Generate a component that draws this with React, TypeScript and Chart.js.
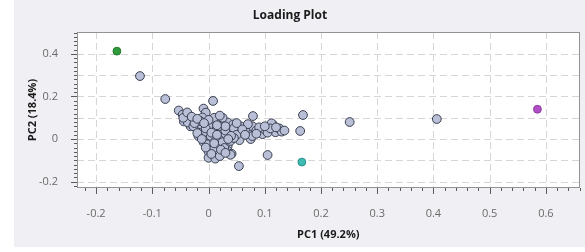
import React, { useEffect, useRef } from "react";
import { Chart, registerables } from "chart.js";

Chart.register(...registerables);

// Loadings (gray points)
const PC1 = [
  -0.122, -0.077, -0.053, -0.046, -0.036, -0.044, -0.027, -0.009, -0.005, -0.011,
  0.007, 0.016, 0.034, 0.044, 0.057, 0.075, 0.093, 0.114, 0.125, 0.119,
  0.069, 0.075, 0.057, 0.039, 0.027, 0.018, 0.004, -0.009, -0.02, -0.032,
  -0.018, -0.009, 0.004, 0.016, 0.034, 0.039, 0.0, 0.016, 0.0, 0.034,
  0.012, 0.021, 0.009, 0.0, -0.014, -0.037, -0.027, 0.008, 0.079, 0.112,
  0.126, 0.096, 0.078, 0.078, 0.06, 0.041, 0.055, 0.105, 0.054, 0.168,
  0.163, 0.251, 0.406, 0.01, 0.02, 0.03, 0.045, 0.05, 0.065, 0.085,
  0.1, 0.105, 0.13, -0.005, 0.005, -0.015, -0.025, 0.0, 0.012, 0.025,
  0.028, 0.008, -0.003, 0.02, 0.005, 0.045, 0.09, -0.045, -0.038, 0.025,
  0.04, 0.07, 0.039, 0.135, 0.02, -0.02, 0.06, 0.11, 0.03, -0.012,
  -0.03, -0.02, 0.015, 0.05, 0.065, 0.085, 0.01, 0.022, 0.03, -0.005,
  0.015, 0.035, -0.008, 0.1, 0.12,
];
const PC2 = [
  0.296, 0.188, 0.134, 0.115, 0.111, 0.083, 0.092, 0.143, 0.124, 0.101,
  0.083, 0.078, 0.078, 0.069, 0.06, 0.06, 0.032, 0.069, 0.046, 0.032,
  0.032, 0.0, 0.014, 0.032, 0.014, 0.0, 0.014, 0.032, 0.046, 0.06,
  0.014, -0.014, -0.032, -0.023, -0.032, -0.009, -0.06, -0.069, -0.088, -0.055,
  -0.092, 0.046, 0.046, 0.06, 0.069, 0.078, 0.06, 0.179, 0.108, 0.074,
  0.05, 0.023, 0.014, 0.06, 0.028, -0.069, -0.005, -0.075, -0.127, 0.113,
  0.038, 0.08, 0.094, 0.1, 0.06, 0.04, 0.05, 0.02, 0.045, 0.04,
  0.045, 0.03, 0.035, 0.05, 0.03, 0.085, 0.075, 0.09, -0.01, -0.015,
  -0.042, -0.045, -0.025, -0.08, -0.07, 0.005, 0.055, 0.1, 0.125, 0.1,
  0.015, 0.07, -0.074, 0.04, 0.11, 0.028, 0.045, 0.05, 0.06, 0.0,
  0.105, 0.095, 0.065, 0.075, 0.02, 0.025, -0.02, -0.05, -0.065, -0.04,
  0.02, 0.0, 0.075, 0.06, 0.055,
];

// Highlighted loadings
const HIGHLIGHT_PC1 = [-0.163, 0.166, 0.585];
const HIGHLIGHT_PC2 = [0.413, -0.108, 0.14];
const HIGHLIGHT_FILL = ["#2f9b3b", "#3dbcb4", "#b24fc6"];
const HIGHLIGHT_EDGE = ["#1f7a2b", "#2a918a", "#8d3aa0"];

const X_TICKS = [-0.2, -0.1, 0, 0.1, 0.2, 0.3, 0.4, 0.5, 0.6];
const Y_TICKS = [-0.2, 0, 0.2, 0.4];
const Y_GRID = [-0.2, -0.1, 0, 0.1, 0.2, 0.3, 0.4];
const X_RANGE = [-0.234, 0.66];
const Y_RANGE = [-0.23, 0.503];
const MINOR_STEP = 0.02;

const FONT = "'Open Sans', 'Noto Sans', sans-serif";

const framePlugin = {
  id: "frame",
  beforeDraw(chart: any) {
    const { ctx, width, height, chartArea } = chart;
    ctx.save();
    ctx.fillStyle = "#ffffff";
    ctx.fillRect(0, 0, width, height);
    ctx.fillStyle = "#f0eff3";
    ctx.fillRect(14, 0, width - 14, height - 5);
    ctx.fillStyle = "#ffffff";
    ctx.fillRect(chartArea.left, chartArea.top, chartArea.right - chartArea.left, chartArea.bottom - chartArea.top);
    ctx.restore();
  },
  beforeDatasetsDraw(chart: any) {
    const { ctx, chartArea, scales } = chart;
    const { left, right, top, bottom } = chartArea;
    const xs = scales.x;
    const ys = scales.y;
    ctx.save();
    // grid
    ctx.strokeStyle = "#d6d6d6";
    ctx.lineWidth = 1;
    ctx.setLineDash([7, 4]);
    X_TICKS.forEach((v) => {
      const px = Math.round(xs.getPixelForValue(v)) + 0.5;
      ctx.beginPath();
      ctx.moveTo(px, top);
      ctx.lineTo(px, bottom);
      ctx.stroke();
    });
    Y_GRID.forEach((v) => {
      const py = Math.round(ys.getPixelForValue(v)) + 0.5;
      ctx.beginPath();
      ctx.moveTo(left, py);
      ctx.lineTo(right, py);
      ctx.stroke();
    });
    ctx.setLineDash([]);
    // ticks
    ctx.strokeStyle = "#5a5a5a";
    const xMin = Math.ceil(X_RANGE[0] / MINOR_STEP);
    const xMax = Math.floor(X_RANGE[1] / MINOR_STEP);
    for (let i = xMin; i <= xMax; i++) {
      const v = i * MINOR_STEP;
      const major = X_TICKS.some((t) => Math.abs(t - v) < 1e-6);
      const px = Math.round(xs.getPixelForValue(v)) + 0.5;
      ctx.beginPath();
      ctx.moveTo(px, bottom);
      ctx.lineTo(px, bottom + (major ? 6 : 3));
      ctx.stroke();
    }
    const yMin = Math.ceil(Y_RANGE[0] / MINOR_STEP);
    const yMax = Math.floor(Y_RANGE[1] / MINOR_STEP);
    for (let i = yMin; i <= yMax; i++) {
      const v = i * MINOR_STEP;
      const major = Y_TICKS.some((t) => Math.abs(t - v) < 1e-6);
      const py = Math.round(ys.getPixelForValue(v)) + 0.5;
      ctx.beginPath();
      ctx.moveTo(left, py);
      ctx.lineTo(left - (major ? 6 : 3), py);
      ctx.stroke();
    }
    // frame
    ctx.strokeStyle = "#939393";
    ctx.strokeRect(Math.round(left) + 0.5, Math.round(top) + 0.5, Math.round(right - left) - 1, Math.round(bottom - top) - 1);
    ctx.restore();
  },
};

export default function App() {
  const ref = useRef<HTMLCanvasElement | null>(null);
  useEffect(() => {
    document.body.style.margin = "0";
    const canvas = ref.current;
    if (!canvas) return;
    const chart = new Chart(canvas, {
      type: "scatter",
      data: {
        datasets: [
          {
            label: "Loadings",
            data: PC1.map((x, i) => ({ x, y: PC2[i] })),
            backgroundColor: "#b8bfd7",
            borderColor: "#3a4050",
            borderWidth: 1,
            pointRadius: 4.4,
          },
          {
            label: "Highlighted",
            data: HIGHLIGHT_PC1.map((x, i) => ({ x, y: HIGHLIGHT_PC2[i] })),
            backgroundColor: HIGHLIGHT_FILL,
            borderColor: HIGHLIGHT_EDGE,
            borderWidth: 1,
            pointRadius: 3.9,
          },
        ],
      },
      options: {
        responsive: false,
        animation: false,
        devicePixelRatio: 1,
        layout: { padding: { left: 0, right: 5, top: 0, bottom: 0 } },
        plugins: {
          legend: { display: false },
          tooltip: { enabled: false },
          title: {
            display: true,
            text: "Loading Plot",
            color: "#1a1a1a",
            font: { family: FONT, size: 12, weight: "bold" },
            padding: { top: 8, bottom: 9.6 },
          },
        },
        scales: {
          x: {
            type: "linear",
            min: X_RANGE[0],
            max: X_RANGE[1],
            grid: { display: false },
            border: { display: false },
            afterBuildTicks: (scale: any) => {
              scale.ticks = X_TICKS.map((v) => ({ value: v }));
            },
            afterFit: (scale: any) => {
              scale.height = 64;
            },
            ticks: {
              color: "#6a6a6a",
              font: { family: FONT, size: 11 },
              padding: 11,
              maxRotation: 0,
              autoSkip: false,
              callback: (v: any) => String(Math.round(Number(v) * 10) / 10),
            },
            title: {
              display: true,
              text: "PC1 (49.2%)",
              color: "#1a1a1a",
              font: { family: FONT, size: 11, weight: "bold" },
              padding: { top: 0, bottom: 11 },
            },
          },
          y: {
            type: "linear",
            min: Y_RANGE[0],
            max: Y_RANGE[1],
            grid: { display: false },
            border: { display: false },
            afterBuildTicks: (scale: any) => {
              scale.ticks = Y_TICKS.map((v) => ({ value: v }));
            },
            afterFit: (scale: any) => {
              scale.width = 77;
            },
            ticks: {
              color: "#6a6a6a",
              font: { family: FONT, size: 11 },
              padding: 11,
              autoSkip: false,
              callback: (v: any) => String(Math.round(Number(v) * 10) / 10),
            },
            title: {
              display: true,
              text: "PC2 (18.4%)",
              color: "#1a1a1a",
              font: { family: FONT, size: 11, weight: "bold" },
              padding: { top: 26, bottom: 0 },
            },
          },
        },
      },
      plugins: [framePlugin],
    } as any);
    return () => chart.destroy();
  }, []);
  return (
    <div style={{ width: 585, height: 252 }}>
      <canvas ref={ref} width={585} height={252} style={{ display: "block" }} />
    </div>
  );
}
